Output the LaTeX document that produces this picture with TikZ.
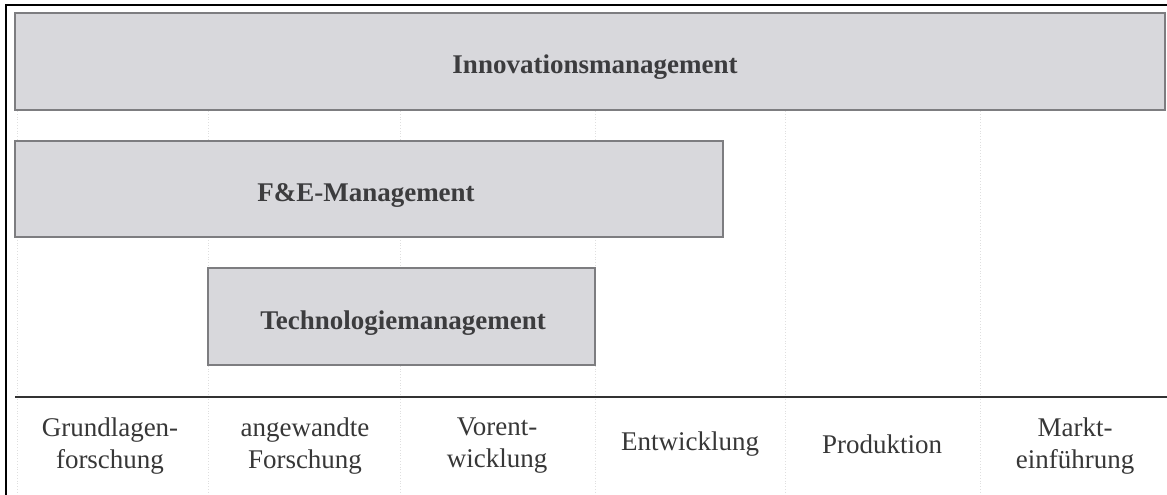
\documentclass[tikz,border=0pt]{standalone}
\usepackage{fontspec}
\setmainfont{Liberation Serif}
\definecolor{boxfill}{RGB}{216,216,220}
\definecolor{boxedge}{RGB}{125,125,128}
\definecolor{boxtext}{RGB}{60,60,62}
\definecolor{phasetext}{RGB}{55,55,55}
\definecolor{axisline}{RGB}{50,50,50}
\begin{document}
\begin{tikzpicture}[x=1pt,y=-1pt,
  bar/.style={draw=boxedge, line width=2pt, fill=boxfill, inner sep=0pt,
    font=\fontsize{27}{30}\selectfont\bfseries, text=boxtext},
  barlabel/.style={font=\fontsize{27}{30}\selectfont\bfseries, text=boxtext,
    inner sep=0pt, anchor=base},
  phase/.style={font=\fontsize{27}{32}\selectfont, text=phasetext,
    align=center, inner sep=0pt},
  guide/.style={draw=gray!25, dotted, line width=0.8pt}]
  \useasboundingbox (0,0) rectangle (1167,495);
  \clip (0,0) rectangle (1167,495);

  % outer frame (runs off the right and bottom edges)
  \draw[line width=2.5pt, black] (6,5) rectangle (1185,515);

  % faint phase dividers
  \foreach \gx in {17,208,400,595,785,980}
    \draw[guide] (\gx,13) -- (\gx,495);

  % management scopes
  \node[bar, minimum width=1150pt, minimum height=97pt] (innov) at (590,61.5) {};
  \node[bar, minimum width=708pt, minimum height=96pt] (fue) at (369,189) {};
  \node[bar, minimum width=387pt, minimum height=97pt] (tech) at (401.5,316.5) {};
  \node[barlabel] (innovlbl) at (595,74) {Innovationsmanagement};
  \node[barlabel] (fuelbl) at (366,201) {F\&E-Management};
  \node[barlabel] (techlbl) at (403,329) {Technologiemanagement};

  % phase axis
  \coordinate (axL) at (15,397);
  \coordinate (axR) at (1167,397);
  \draw[axisline, line width=2pt] (axL) -- (axR);

  % phases
  \node[phase] (p1) at (110,446) {Grundlagen-\\forschung};
  \node[phase] (p2) at (305,446) {angewandte\\Forschung};
  \node[phase] (p3) at (497,446) {Vorent-\\wicklung};
  \node[phase] (p4) at (690,444) {Entwicklung};
  \node[phase] (p5) at (882,444) {Produktion};
  \node[phase] (p6) at (1075,446) {Markt-\\einführung};
\end{tikzpicture}
\end{document}
